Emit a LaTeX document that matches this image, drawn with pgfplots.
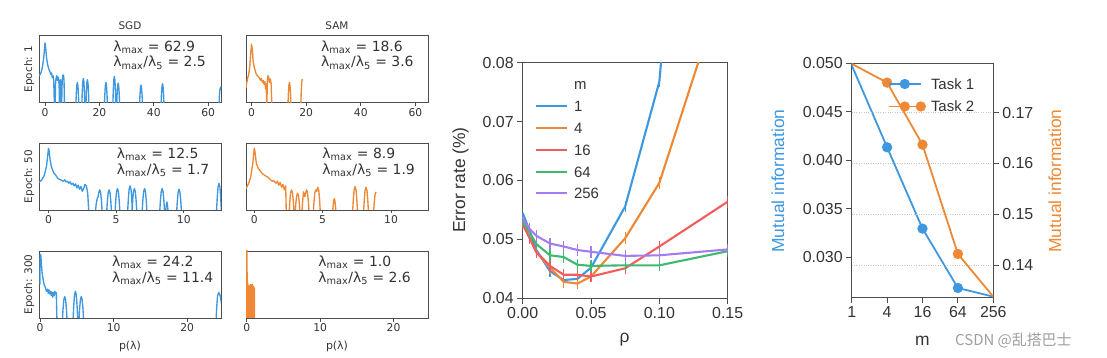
\documentclass[border=0pt]{standalone}
\usepackage{pgfplots}
\pgfplotsset{compat=1.18}
\usepackage{fontspec}
\setmainfont{Liberation Sans}
\newfontfamily\dv{DejaVu Sans}
\newfontfamily\cjk{Noto Sans CJK SC}
\definecolor{c1}{HTML}{3D98E0}
\definecolor{c2}{HTML}{EE8834}
\definecolor{c3}{HTML}{F25C5C}
\definecolor{c4}{HTML}{3FB870}
\definecolor{c5}{HTML}{A27CF0}
\definecolor{axc}{HTML}{4D4D4D}
\definecolor{txt}{HTML}{333333}
\pgfplotsset{
  /pgf/number format/assume math mode=true,
  spec/.style={scale only axis, width=182bp, height=67bp, ymin=0, ymax=1, ytick=\empty,
    anchor=south west, axis line style={axc, line width=0.9bp}, tick align=outside,
    xtick pos=bottom, major tick length=3.5bp, tick style={axc, line width=0.8bp},
    xticklabel style={font=\dv\fontsize{10.8}{12}\selectfont, text=txt, inner sep=2bp}},
  sp/.style={line width=1.35bp, line join=round},
  mp/.style={line width=2.1bp, line join=round,
     error bars/y dir=both, error bars/y fixed=0.001, error bars/error mark=none,
     error bars/error bar style={line width=1.4bp}},
}
\tikzset{ann/.style={anchor=north west, align=left, inner sep=0pt, text=txt, font=\dv\fontsize{14}{15.6}\selectfont}}
\begin{document}
\begin{tikzpicture}
\path[use as bounding box] (0,0) rectangle (1107bp,358bp);
% ---------------- Row 1 SGD
\begin{axis}[spec, at={(39bp,255.5bp)}, xmin=-2.2, xmax=64.7, xtick={0,20,40,60}]
\addplot[c1, sp] coordinates {(-2.2,0.40)(-1.8,0.42)(-1.4,0.45)(-1.0,0.52)(-0.6,0.62)(-0.3,0.74)(0,0.89)(0.3,0.80)(0.6,0.66)(1.0,0.56)(1.4,0.50)(1.8,0.46)(2.1,0.42)(2.4,0.44)(2.7,0.37)(3.0,0.40)(3.2,0.34)(3.4,0.05)(3.5,-0.1)
(3.7,-0.1)(3.9,0.30)(4.1,0.36)(4.3,0.40)(4.6,0.33)(4.8,0.38)(5.0,0.36)(5.2,0.25)(5.35,-0.1)(5.5,0.28)(5.7,0.34)(5.9,0.28)(6.1,-0.1)(6.3,0.30)(6.5,0.40)(6.8,0.41)(7.0,0.33)(7.2,-0.1)
(11.3,-0.1)(11.5,0.122)(11.7,0.256)(11.9,0.30)(12.1,0.256)(12.3,0.122)(12.5,-0.1)
(13.5,-0.1)(13.7,0.156)(13.9,0.309)(14.1,0.36)(14.3,0.309)(14.5,0.156)(14.7,-0.1)
(15.0,-0.1)(15.2,0.145)(15.4,0.291)(15.6,0.34)(15.8,0.291)(16.0,0.145)(16.2,-0.1)
(21.8,-0.1)(22.0,0.122)(22.2,0.256)(22.4,0.30)(22.6,0.256)(22.8,0.122)(23.0,-0.1)
(24.9,-0.1)(25.1,0.172)(25.3,0.336)(25.5,0.39)(25.7,0.336)(25.9,0.172)(26.1,-0.1)
(26.3,-0.1)(26.5,0.117)(26.7,0.247)(26.9,0.29)(27.1,0.247)(27.3,0.117)(27.5,-0.1)
(34.7,-0.1)(34.9,0.10)(35.1,0.22)(35.3,0.26)(35.5,0.22)(35.7,0.10)(35.9,-0.1)
(42.6,-0.1)(42.8,0.111)(43.0,0.238)(43.2,0.28)(43.4,0.238)(43.6,0.111)(43.8,-0.1)
(63.9,-0.1)(64.1,0.083)(64.3,0.193)(64.6,0.23)(64.8,0.193)};
\node[ann] at (rel axis cs:0.408,0.925) {λ\textsubscript{max} = 62.9\\λ\textsubscript{max}/λ\textsubscript{5} = 2.5};
\end{axis}
% ---------------- Row 1 SAM
\begin{axis}[spec, at={(246bp,255.5bp)}, xmin=-2.0, xmax=64.6, xtick={0,20,40,60}]
\addplot[c2, sp] coordinates {(-2.0,0.22)(-1.8,0.28)(-1.4,0.36)(-1.0,0.42)(-0.6,0.55)(-0.3,0.72)(0,0.87)(0.3,0.80)(0.6,0.62)(1.0,0.53)(1.4,0.47)(1.8,0.42)(2.2,0.40)(2.6,0.38)(3.0,0.36)(3.3,0.33)(3.6,0.36)(4.0,0.30)(4.3,0.33)(4.6,0.27)(4.9,0.31)(5.2,0.20)(5.4,0.28)(5.6,-0.1)(5.8,0.30)(6.0,0.40)(6.3,0.38)(6.6,0.30)(6.9,0.35)(7.2,0.28)(7.5,-0.1)
(13.3,-0.1)(13.5,0.122)(13.7,0.256)(13.9,0.30)(14.1,0.256)(14.3,0.122)(14.5,-0.1)
(18.0,-0.1)(18.2,0.15)(18.4,0.30)(18.6,0.35)};
\node[ann] at (rel axis cs:0.412,0.925) {λ\textsubscript{max} = 18.6\\λ\textsubscript{max}/λ\textsubscript{5} = 3.6};
\end{axis}
% ---------------- Row 2 SGD
\begin{axis}[spec, at={(39bp,148bp)}, xmin=-0.7, xmax=12.75, xtick={0,5,10}]
\addplot[c1, sp] coordinates {(-0.7,0.41)(-0.5,0.45)(-0.3,0.52)(-0.15,0.65)(-0.05,0.82)(0,0.92)(0.05,0.88)(0.12,0.75)(0.2,0.66)(0.3,0.60)(0.4,0.55)(0.5,0.53)(0.6,0.50)(0.7,0.47)(0.8,0.46)(0.9,0.45)(1.0,0.44)(1.1,0.43)(1.2,0.45)(1.3,0.42)(1.4,0.43)(1.5,0.40)(1.6,0.42)(1.7,0.38)(1.8,0.40)(1.9,0.36)(2.0,0.39)(2.1,0.33)(2.2,0.37)(2.3,0.31)(2.4,0.35)(2.5,0.28)(2.6,0.32)(2.7,0.38)(2.8,0.36)(2.9,0.25)(3.0,-0.1)
(3.45,-0.1)(3.52,0.08)(3.6,0.17)(3.67,0.20)(3.73,0.27)(3.78,0.30)(3.85,0.27)(3.92,0.14)(3.98,-0.1)
(4.28,-0.1)(4.35,0.122)(4.41,0.256)(4.48,0.30)(4.55,0.256)(4.61,0.122)(4.68,-0.1)
(4.9,-0.1)(4.97,0.133)(5.03,0.273)(5.1,0.32)(5.17,0.273)(5.23,0.133)(5.3,-0.1)
(5.83,-0.1)(5.9,0.156)(5.96,0.309)(6.03,0.36)(6.1,0.309)(6.16,0.156)(6.2,-0.1)
(6.17,-0.1)(6.22,0.133)(6.28,0.273)(6.35,0.32)(6.42,0.273)(6.48,0.133)(6.55,-0.1)
(6.9,-0.1)(6.97,0.133)(7.03,0.273)(7.1,0.32)(7.17,0.273)(7.23,0.133)(7.3,-0.1)
(8.2,-0.1)(8.27,0.133)(8.33,0.273)(8.4,0.32)(8.47,0.273)(8.53,0.133)(8.6,-0.1)
(8.62,-0.1)(8.68,0.022)(8.72,0.096)(8.75,0.12)(8.78,0.096)(8.82,0.022)(8.88,-0.1)
(9.45,-0.1)(9.52,0.128)(9.58,0.264)(9.65,0.31)(9.72,0.264)(9.78,0.128)(9.85,-0.1)
(12.4,-0.1)(12.47,0.178)(12.53,0.344)(12.6,0.40)(12.67,0.344)(12.73,0.178)(12.8,-0.1)};
\node[ann] at (rel axis cs:0.427,0.925) {λ\textsubscript{max} = 12.5\\λ\textsubscript{max}/λ\textsubscript{5} = 1.7};
\end{axis}
% ---------------- Row 2 SAM
\begin{axis}[spec, at={(246bp,148bp)}, xmin=-0.6, xmax=12.7, xtick={0,5,10}]
\addplot[c2, sp] coordinates {(-0.6,0.32)(-0.4,0.40)(-0.25,0.50)(-0.1,0.70)(0,0.92)(0.05,0.88)(0.15,0.70)(0.3,0.62)(0.45,0.58)(0.6,0.54)(0.75,0.52)(0.9,0.50)(1.0,0.49)(1.1,0.47)(1.2,0.45)(1.3,0.43)(1.4,0.44)(1.5,0.42)(1.6,0.40)(1.7,0.43)(1.8,0.37)(1.9,0.41)(2.0,0.34)(2.1,0.38)(2.2,0.30)(2.3,0.36)(2.35,-0.1)
(2.53,-0.1)(2.6,0.122)(2.66,0.256)(2.73,0.30)(2.8,0.256)(2.86,0.122)(2.93,-0.1)
(2.97,-0.1)(3.04,0.095)(3.1,0.211)(3.17,0.25)(3.24,0.211)(3.3,0.095)(3.37,-0.1)
(3.47,-0.1)(3.53,0.106)(3.6,0.27)(3.7,0.2)(3.76,0.256)(3.83,0.30)(3.9,0.256)(3.96,0.122)(4.03,-0.1)
(4.3,-0.1)(4.37,0.122)(4.43,0.256)(4.5,0.30)(4.57,0.28)(4.65,0.34)(4.72,0.291)(4.78,0.145)(4.85,-0.1)
(5.7,-0.1)(5.76,0.05)(5.81,0.14)(5.85,0.17)(5.89,0.14)(5.94,0.05)(6.0,-0.1)
(7.17,-0.1)(7.24,0.15)(7.3,0.30)(7.37,0.35)(7.44,0.30)(7.5,0.15)(7.57,-0.1)
(7.97,-0.1)(8.04,0.145)(8.1,0.291)(8.17,0.34)(8.24,0.291)(8.3,0.145)(8.37,-0.1)
(8.7,-0.1)(8.77,0.106)(8.83,0.229)(8.9,0.27)};
\node[ann] at (rel axis cs:0.419,0.925) {λ\textsubscript{max} = 8.9\\λ\textsubscript{max}/λ\textsubscript{5} = 1.9};
\end{axis}
% ---------------- Row 3 SGD
\begin{axis}[spec, at={(39bp,40bp)}, xmin=-0.15, xmax=24.6, xtick={0,10,20}]
\addplot[c1, sp] coordinates {(-0.02,0.5)(0,0.88)(0.05,0.95)(0.1,0.93)(0.15,0.85)(0.25,0.70)(0.35,0.62)(0.45,0.55)(0.55,0.50)(0.7,0.46)(0.85,0.40)(1.0,0.43)(1.1,0.37)(1.2,0.42)(1.3,0.36)(1.4,0.40)(1.5,0.34)(1.6,0.39)(1.7,0.31)(1.8,0.38)(1.9,0.33)(2.0,0.40)(2.1,0.36)(2.2,0.38)(2.3,-0.1)
(3.0,-0.1)(3.12,0.133)(3.23,0.273)(3.35,0.32)(3.47,0.273)(3.58,0.133)(3.7,-0.1)
(4.45,-0.1)(4.57,0.178)(4.68,0.344)(4.8,0.40)(4.92,0.344)(5.03,0.178)(5.15,-0.1)
(5.25,-0.1)(5.37,0.133)(5.48,0.273)(5.6,0.32)(5.72,0.273)(5.83,0.133)(5.95,-0.1)
(23.9,-0.1)(24.02,0.167)(24.13,0.327)(24.3,0.38)(24.5,0.33)(24.7,0.2)};
\node[ann] at (rel axis cs:0.40,0.925) {λ\textsubscript{max} = 24.2\\λ\textsubscript{max}/λ\textsubscript{5} = 11.4};
\end{axis}
% ---------------- Row 3 SAM
\begin{axis}[spec, at={(246bp,40bp)}, xmin=-0.1, xmax=24.7, xtick={0,10,20}]
\addplot[c2, sp] coordinates {(0,-0.1)(0.01,1.05)(0.03,1.05)(0.05,0.6)(0.07,-0.1)(0.09,0.55)(0.11,-0.1)(0.13,0.52)(0.15,-0.1)(0.17,0.50)(0.19,-0.1)(0.21,0.48)(0.23,-0.1)(0.25,0.44)(0.27,-0.1)(0.29,0.42)(0.31,-0.1)(0.33,0.45)(0.35,-0.1)(0.37,0.47)(0.39,-0.1)(0.41,0.48)(0.43,-0.1)(0.45,0.49)(0.47,-0.1)(0.49,0.48)(0.51,-0.1)(0.53,0.50)(0.55,-0.1)(0.57,0.50)(0.59,-0.1)(0.61,0.49)(0.63,-0.1)(0.65,0.50)(0.67,-0.1)(0.69,0.49)(0.71,-0.1)(0.73,0.48)(0.75,-0.1)(0.77,0.50)(0.79,-0.1)(0.81,0.49)(0.83,-0.1)(0.85,0.47)(0.87,-0.1)(0.89,0.46)(0.91,-0.1)(0.93,0.47)(0.95,-0.1)(0.97,0.46)(0.99,-0.1)(1.01,0.45)(1.03,-0.1)(1.05,0.44)(1.07,-0.1)};
\node[ann] at (rel axis cs:0.397,0.925) {λ\textsubscript{max} = 1.0\\λ\textsubscript{max}/λ\textsubscript{5} = 2.6};
\end{axis}
% labels of the small panels
\begin{scope}[every node/.style={text=txt, font=\dv\fontsize{10.5}{12}\selectfont}]
\node[anchor=base] at (130bp,328.7bp) {SGD};
\node[anchor=base] at (337bp,328.7bp) {SAM};
\node[rotate=90, anchor=base] at (32bp,289bp) {Epoch: 1};
\node[rotate=90, anchor=base] at (32bp,181.5bp) {Epoch: 50};
\node[rotate=90, anchor=base] at (32bp,73.5bp) {Epoch: 300};
\node[anchor=base, font=\dv\fontsize{11}{12}\selectfont] at (130bp,9bp) {p(λ)};
\node[anchor=base, font=\dv\fontsize{11}{12}\selectfont] at (337bp,9bp) {p(λ)};
\end{scope}
% ---------------- Middle panel
\begin{axis}[scale only axis, anchor=south west, at={(522.7bp,59.7bp)}, width=205bp, height=235.6bp,
  xmin=0, xmax=0.15, ymin=0.04, ymax=0.08, scaled ticks=false,
  xtick={0,0.05,0.1,0.15}, ytick={0.04,0.05,0.06,0.07,0.08},
  xticklabel style={/pgf/number format/.cd, fixed, fixed zerofill, precision=2},
  yticklabel style={/pgf/number format/.cd, fixed, fixed zerofill, precision=2},
  ticklabel style={font=\fontsize{16}{18}\selectfont, text=txt},
  axis line style={axc, line width=1bp}, tick style={axc, line width=1bp}, tick align=outside,
  xtick pos=bottom, ytick pos=left, major tick length=5.5bp,
  legend style={at={(rel axis cs:0,1)}, anchor=north west, xshift=12bp, yshift=-14bp, draw=none, fill=none,
     font=\fontsize{15}{15}\selectfont, text=txt, inner sep=0pt, row sep=6.8bp, column sep=4bp,
     nodes={text height=11bp, text depth=0bp, inner sep=2bp}},
  legend cell align=left,
  legend image code/.code={\draw[line width=2.1bp] (0bp,0bp) -- (31bp,0bp);}]
\addlegendimage{empty legend}\addlegendentry{m}
\addplot[c1, mp] coordinates {(0,0.0545)(0.005,0.0515)(0.01,0.0482)(0.02,0.0446)(0.03,0.0431)(0.04,0.0433)(0.05,0.0452)(0.075,0.0556)(0.1,0.0768)(0.15,0.21)};
\addlegendentry{1}
\addplot[c2, mp] coordinates {(0,0.0530)(0.005,0.0502)(0.01,0.0478)(0.02,0.0452)(0.03,0.0428)(0.04,0.0425)(0.05,0.0437)(0.075,0.0502)(0.1,0.0596)(0.15,0.0955)};
\addlegendentry{4}
\addplot[c3, mp] coordinates {(0,0.0525)(0.005,0.0503)(0.01,0.0478)(0.02,0.0455)(0.03,0.0440)(0.04,0.0440)(0.05,0.0437)(0.075,0.0451)(0.1,0.0488)(0.15,0.0564)};
\addlegendentry{16}
\addplot[c4, mp] coordinates {(0,0.0530)(0.005,0.0512)(0.01,0.0492)(0.02,0.0473)(0.03,0.0470)(0.04,0.0457)(0.05,0.0455)(0.075,0.0456)(0.1,0.0456)(0.15,0.0480)};
\addlegendentry{64}
\addplot[c5, mp] coordinates {(0,0.0535)(0.005,0.0518)(0.01,0.0506)(0.02,0.0493)(0.03,0.0488)(0.04,0.0482)(0.05,0.0479)(0.075,0.0472)(0.1,0.0473)(0.15,0.0483)};
\addlegendentry{256}
\end{axis}
\node[rotate=90, anchor=base, text=txt, font=\fontsize{17.5}{20}\selectfont] at (465bp,178bp) {Error rate (\%)};
\node[anchor=base, text=txt, font=\fontsize{17.5}{20}\selectfont] at (624.6bp,16bp) {ρ};
% ---------------- Right panel
\begin{axis}[scale only axis, anchor=south west, at={(851.7bp,60.3bp)}, width=141.6bp, height=234.4bp,
  xmode=log, log basis x=2, xmin=1, xmax=256, xtick={1,4,16,64,256}, xticklabels={1,4,16,64,256},
  ymin=0.02584, ymax=0.050, ytick={0.030,0.035,0.040,0.045,0.050}, scaled ticks=false,
  yticklabel style={/pgf/number format/.cd, fixed, fixed zerofill, precision=3},
  ticklabel style={font=\fontsize{16}{18}\selectfont, text=txt},
  axis line style={axc, line width=1bp}, tick style={axc, line width=1bp}, tick align=outside,
  xtick pos=bottom, ytick pos=left, major tick length=5.5bp]
\addplot[c1, line width=1.8bp, mark=*, mark size=4.2bp, mark indices={2,3,4}] coordinates {(1,0.0498)(4,0.04134)(16,0.03296)(64,0.02684)(256,0.02595)};
\end{axis}
\begin{axis}[scale only axis, anchor=south west, at={(851.7bp,60.3bp)}, width=141.6bp, height=234.4bp,
  xmode=log, log basis x=2, xmin=1, xmax=256, axis x line=none,
  axis y line*=right, ymin=0.1336, ymax=0.1797, ytick={0.14,0.15,0.16,0.17}, scaled ticks=false,
  yticklabel style={/pgf/number format/.cd, fixed, fixed zerofill, precision=2},
  ticklabel style={font=\fontsize{16}{18}\selectfont, text=txt},
  axis line style={axc, line width=1bp}, tick style={axc, line width=1bp}, tick align=outside,
  major tick length=5.5bp, ymajorgrids, grid style={dotted, gray!45, line width=1bp},
  legend style={at={(rel axis cs:0,1)}, anchor=north west, xshift=36bp, yshift=-13bp, draw=none, fill=none,
     font=\fontsize{15}{15}\selectfont, text=txt, inner sep=0pt, row sep=7.5bp, column sep=4bp,
     nodes={text height=11bp, text depth=0bp, inner sep=2bp}},
  legend cell align=left,
  legend image code/.code={\draw[mark repeat=2, mark phase=2, line width=1.8bp] plot coordinates {(0bp,0bp) (16bp,0bp) (32bp,0bp)};}]
\addlegendimage{c1, line width=1.8bp, mark=*, mark size=4.2bp}\addlegendentry{Task 1}
\addplot[c2, line width=1.8bp, mark=*, mark size=4.2bp, mark indices={2,3,4}] coordinates {(1,0.1796)(4,0.1759)(16,0.1637)(64,0.1422)(256,0.1338)};
\addlegendentry{Task 2}
\end{axis}
\node[rotate=90, anchor=base, text=c1, font=\fontsize{17.5}{20}\selectfont] at (784bp,177bp) {Mutual information};
\node[rotate=90, anchor=base, text=c2, font=\fontsize{17.5}{20}\selectfont] at (1061bp,177bp) {Mutual information};
\node[anchor=base, text=txt, font=\fontsize{17.5}{20}\selectfont] at (922.3bp,13bp) {m};
\node[anchor=base west, inner sep=0pt, text=black!38, font=\cjk\fontsize{15}{15}\selectfont] at (955bp,13bp) {CSDN @乱搭巴士};
\end{tikzpicture}
\end{document}
